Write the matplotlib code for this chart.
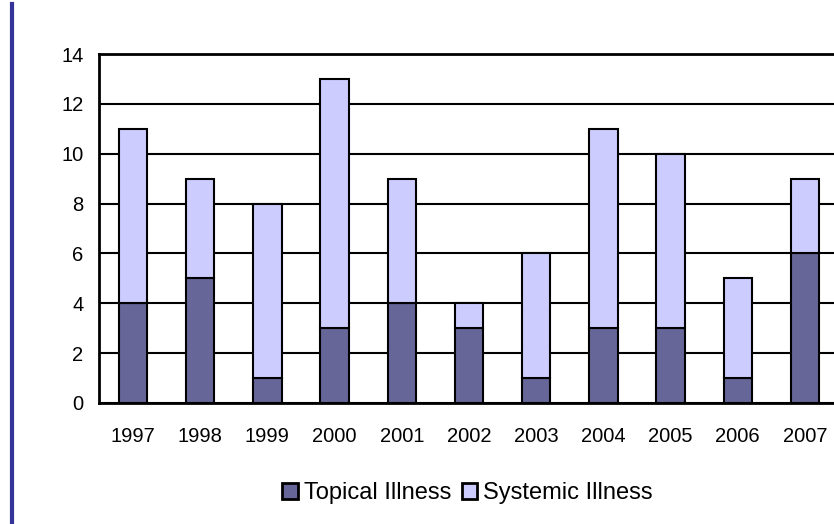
import matplotlib
matplotlib.use("Agg")
import matplotlib.pyplot as plt
from matplotlib.lines import Line2D
from matplotlib.patches import Patch
import numpy as np

years = ["1997", "1998", "1999", "2000", "2001", "2002", "2003", "2004", "2005", "2006", "2007"]
topical = [4, 5, 1, 3, 4, 3, 1, 3, 3, 1, 6]
systemic = [7, 4, 7, 10, 5, 1, 5, 8, 7, 4, 3]

TOPICAL_C = "#666699"
SYSTEMIC_C = "#CCCCFF"

plt.rcParams.update({
    "font.family": ["Liberation Sans", "DejaVu Sans"],
    "font.size": 14.5,
})

fig = plt.figure(figsize=(8.34, 5.24), dpi=100)
# plot area runs slightly past the right edge of the canvas
ax = fig.add_axes([99.4 / 834, 121 / 524, 739.2 / 834, 349 / 524])

x = np.arange(len(years))
w = 0.42
ax.bar(x, topical, w, color=TOPICAL_C, edgecolor="black", lw=1.5, zorder=3)
ax.bar(x, systemic, w, bottom=topical, color=SYSTEMIC_C, edgecolor="black", lw=1.5, zorder=3)

ax.set_xlim(-0.5, len(years) - 0.5)
ax.set_ylim(0, 14)
ax.set_yticks(range(0, 15, 2))
ax.set_xticks(x)
ax.set_xticklabels(years)
ax.tick_params(axis="both", length=0, labelsize=14.5)
ax.tick_params(axis="y", pad=11.5)
ax.tick_params(axis="x", pad=17)
ax.yaxis.grid(True, color="black", lw=1.5, zorder=0)
ax.set_axisbelow(True)
for s in ax.spines.values():
    s.set_linewidth(2)
    s.set_color("black")

handles = [Patch(facecolor=TOPICAL_C, edgecolor="black", lw=2, label="Topical Illness"),
           Patch(facecolor=SYSTEMIC_C, edgecolor="black", lw=2, label="Systemic Illness")]
fig.legend(handles=handles, loc="center", bbox_to_anchor=(467.5 / 834, 1 - 493 / 524),
           ncol=2, frameon=False, fontsize=17, handlelength=0.65, handleheight=0.65,
           handletextpad=0.25, columnspacing=0.45, borderpad=0)

# blue rule down the left side
fig.add_artist(Line2D([11.5 / 834, 11.5 / 834], [0, 1 - 4 / 524], color="#333399", lw=3))

fig.savefig("out.png", dpi=100)
